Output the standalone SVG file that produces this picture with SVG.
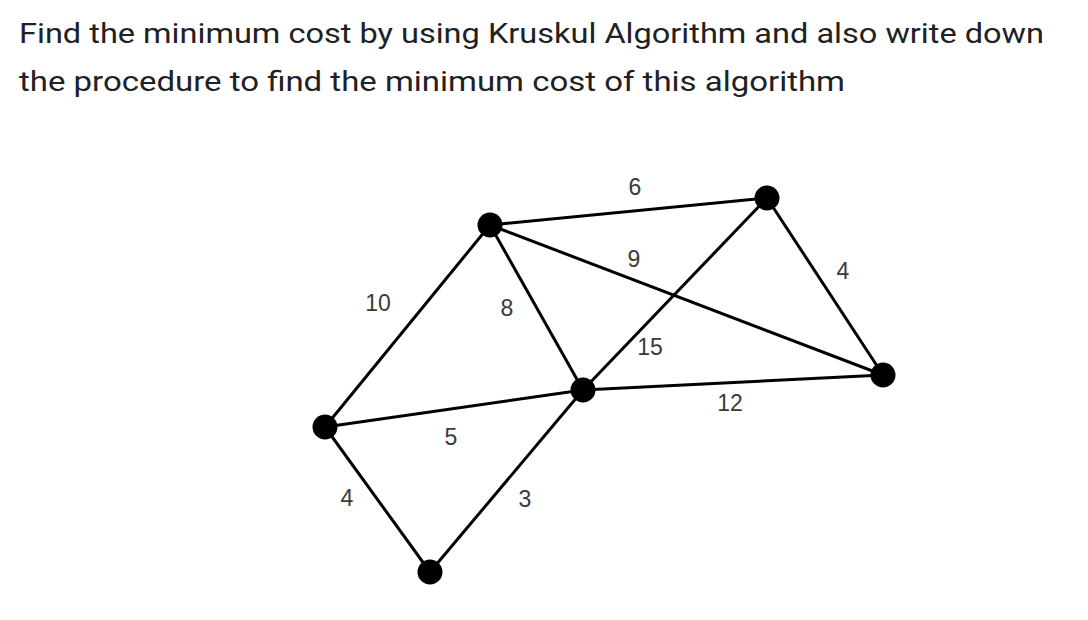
<svg xmlns="http://www.w3.org/2000/svg" width="1088" height="620" viewBox="0 0 1088 620">
<style>
.title{font-family:Roboto,"Open Sans",sans-serif;font-size:28.5px;fill:#202124}
.edge{stroke:#000;stroke-width:3;fill:none}
.node{fill:#000}
.lbl{font-family:"Liberation Sans",Arial,sans-serif;font-size:23px;fill:#3a3a3a;text-anchor:middle;dominant-baseline:central}
</style>
<rect width="1088" height="620" fill="#fff"/>
<text class="title" x="19" y="43" textLength="1025" lengthAdjust="spacingAndGlyphs">Find the minimum cost by using Kruskul Algorithm and also write down</text>
<text class="title" x="19" y="91" textLength="826" lengthAdjust="spacingAndGlyphs">the procedure to find the minimum cost of this algorithm</text>
<g id="connectors">
<line class="edge" x1="490" y1="225" x2="767" y2="198"/>
<line class="edge" x1="490" y1="225" x2="583" y2="390"/>
<line class="edge" x1="490" y1="225" x2="883" y2="375"/>
<line class="edge" x1="490" y1="225" x2="325" y2="427"/>
<line class="edge" x1="767" y1="198" x2="583" y2="390"/>
<line class="edge" x1="767" y1="198" x2="883" y2="375"/>
<line class="edge" x1="583" y1="390" x2="883" y2="375"/>
<line class="edge" x1="583" y1="390" x2="325" y2="427"/>
<line class="edge" x1="583" y1="390" x2="430" y2="572"/>
<line class="edge" x1="325" y1="427" x2="430" y2="572"/>
<text class="lbl" x="635" y="187">6</text>
<text class="lbl" x="634" y="259">9</text>
<text class="lbl" x="843" y="271">4</text>
<text class="lbl" x="378" y="303">10</text>
<text class="lbl" x="507" y="308">8</text>
<text class="lbl" x="650" y="347">15</text>
<text class="lbl" x="730" y="403">12</text>
<text class="lbl" x="451" y="437">5</text>
<text class="lbl" x="347" y="498">4</text>
<text class="lbl" x="525" y="499">3</text>
</g>
<g id="nA"><circle class="node" cx="490" cy="225" r="12.5"/></g>
<g id="nB"><circle class="node" cx="767" cy="198" r="12.5"/></g>
<g id="nC"><circle class="node" cx="583" cy="390" r="12.5"/></g>
<g id="nD"><circle class="node" cx="883" cy="375" r="12.5"/></g>
<g id="nE"><circle class="node" cx="325" cy="427" r="12.5"/></g>
<g id="nF"><circle class="node" cx="430" cy="572" r="12.5"/></g>
</svg>
